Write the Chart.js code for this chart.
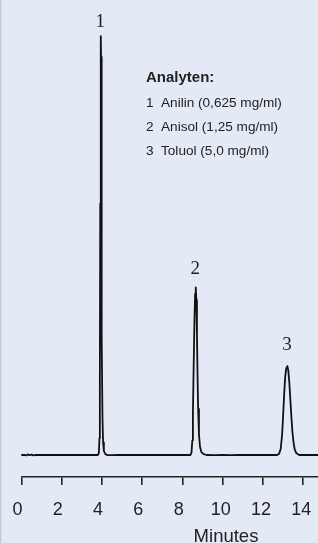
<!DOCTYPE html>
<html>
<head>
<meta charset="utf-8">
<script src="https://cdn.jsdelivr.net/npm/chart.js@4.4.1/dist/chart.umd.min.js"></script>
<style>
  html, body { margin: 0; padding: 0; }
  body {
    width: 318px; height: 543px; overflow: hidden;
    background: linear-gradient(to right, #c5ccd8 0 1px, #d6dde9 1px 2px, #e3eaf6 2px);
  }
  canvas { display: block; }
</style>
</head>
<body>
<canvas id="c" width="318" height="543"></canvas>
<script>
// ---- Data ----
const timeMin = [
  0.00, 0.15, 0.25, 0.32, 0.40, 0.50, 0.60, 0.72, 0.85, 1.00, 1.50, 2.00, 2.50, 3.00, 3.50,
  3.80, 3.85, 3.88, 3.90, 3.92, 3.94, 3.95, 3.96, 3.98, 4.00, 4.03, 4.06, 4.10, 4.16, 4.25,
  4.50, 4.80, 5.20, 5.60, 6.00, 7.00, 8.00,
  8.40, 8.45, 8.49, 8.52, 8.56, 8.60, 8.63, 8.66, 8.69, 8.72, 8.75, 8.78, 8.82, 8.87, 8.94, 9.05, 9.20,
  9.60, 10.00, 10.40, 10.80, 11.50, 12.00,
  12.70, 12.80, 12.88, 12.95, 13.00, 13.05, 13.10, 13.15, 13.21, 13.26, 13.31, 13.36, 13.41,
  13.46, 13.52, 13.58, 13.66, 13.80, 14.20, 14.80
];
const signal = [
  0, 0.05, -0.1, 0.15, -0.05, 0.1, -0.1, 0.05, 0, 0.05, 0, 0.03, 0, 0, 0,
  0, 0.4, 4, 18, 60, 95, 100, 95, 62, 28, 9, 3, 1, 0.3, 0,
  -0.05, 0, 0.05, 0, 0, 0, 0,
  0, 0.6, 3.5, 10, 22, 33, 38.5, 40, 37, 29, 19, 11, 5, 2, 0.7, 0.2, 0,
  -0.05, 0.05, -0.05, 0, 0, 0,
  0, 0.3, 1.5, 5, 9.5, 14.5, 18.5, 20.6, 21.2, 20, 17, 13, 9,
  5.5, 2.8, 1.2, 0.4, 0, 0, 0
];
const xTicks = [0, 2, 4, 6, 8, 10, 12, 14];
const peakNumbers = ['1', '2', '3'];
const peakTimes = [3.95, 8.66, 13.21];
const legendTitle = 'Analyten:';
const analytes = ['Anilin (0,625 mg/ml)', 'Anisol (1,25 mg/ml)', 'Toluol (5,0 mg/ml)'];
const xTitle = 'Minutes';

const points = timeMin.map((t, i) => ({ x: t, y: signal[i] }));

const textColor = '#222222';

const overlay = {
  id: 'overlay',
  afterDraw(chart) {
    const ctx = chart.ctx;
    const xs = chart.scales.x, ys = chart.scales.y;
    ctx.save();
    ctx.fillStyle = textColor;
    // peak numbers
    const gaps = [8.7, 13, 15.7];
    ctx.font = '19px "Liberation Serif", "Times New Roman", serif';
    ctx.textAlign = 'center';
    ctx.textBaseline = 'alphabetic';
    peakTimes.forEach((t, i) => {
      const idx = timeMin.indexOf(t);
      const px = xs.getPixelForValue(t);
      const py = ys.getPixelForValue(signal[idx]);
      ctx.fillText(peakNumbers[i], px - 0.5, py - gaps[i]);
    });
    // legend block
    ctx.textAlign = 'left';
    ctx.font = 'bold 15px "Liberation Sans", Arial, sans-serif';
    ctx.fillText(legendTitle, 146, 82.3);
    ctx.font = '13.6px "Liberation Sans", Arial, sans-serif';
    analytes.forEach((a, i) => {
      const y = 106.7 + i * 24;
      ctx.fillText(String(i + 1), 146, y);
      ctx.fillText(a, 161, y);
    });
    // x axis title
    ctx.font = '18.5px "Liberation Sans", Arial, sans-serif';
    ctx.textAlign = 'center';
    ctx.fillText(xTitle, 226, 541.5);
    ctx.restore();
  }
};

new Chart(document.getElementById('c'), {
  type: 'line',
  data: {
    datasets: [{
      data: points,
      borderColor: '#111111',
      borderWidth: 1.8,
      borderJoinStyle: 'round',
      borderCapStyle: 'round',
      pointRadius: 0,
      tension: 0,
      fill: false
    }]
  },
  options: {
    responsive: false,
    animation: false,
    devicePixelRatio: 1,
    layout: { padding: { left: 21.3, right: 0, top: 0, bottom: 8.4 } },
    plugins: { legend: { display: false }, tooltip: { enabled: false } },
    scales: {
      x: {
        type: 'linear',
        min: 0,
        max: 14.73,
        afterBuildTicks(scale) { scale.ticks = xTicks.map(v => ({ value: v })); },
        afterFit(scale) { scale.paddingLeft = 0; scale.paddingRight = 0; },
        ticks: {
          includeBounds: false,
          autoSkip: false,
          maxRotation: 0,
          color: textColor,
          font: { family: '"Liberation Sans", Arial, sans-serif', size: 18 },
          padding: 14,
          labelOffset: -2,
          callback: (v) => String(v).length === 1 ? v + '\u2009' : String(v)
        },
        grid: { drawOnChartArea: false, drawTicks: true, tickLength: 8, color: '#222222', lineWidth: 1.6 },
        border: { display: true, color: '#222222', width: 1.6 },
        title: { display: false }
      },
      y: {
        display: false,
        min: -5.25,
        max: 108.6
      }
    }
  },
  plugins: [overlay]
});
</script>
</body>
</html>
